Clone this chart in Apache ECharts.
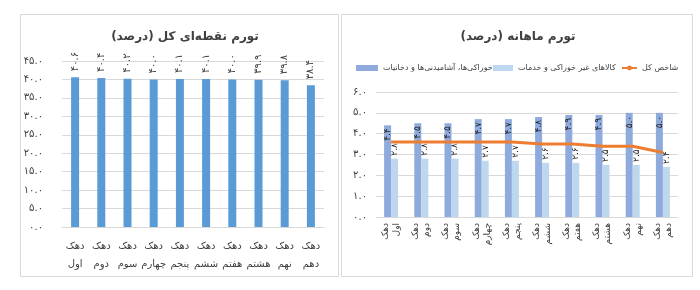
<!DOCTYPE html>
<html><head><meta charset="utf-8">
<script src="https://cdn.jsdelivr.net/npm/echarts@6/dist/echarts.min.js"></script>
<style>html,body{margin:0;padding:0;background:#fff}#c{width:700px;height:290px}</style>
</head><body><div id="c"></div>
<script>
const deciles = ['دهک اول','دهک دوم','دهک سوم','دهک چهارم','دهک پنجم','دهک ششم','دهک هفتم','دهک هشتم','دهک نهم','دهک دهم'];
const pointInflation = [40.6, 40.4, 40.2, 40.0, 40.1, 40.1, 40.0, 39.9, 39.8, 38.4];
const foodMonthly = [4.4, 4.5, 4.5, 4.7, 4.7, 4.8, 4.9, 4.9, 5.0, 5.0];
const nonFoodMonthly = [2.8, 2.8, 2.8, 2.7, 2.7, 2.6, 2.6, 2.5, 2.5, 2.4];
const totalMonthly = [3.6, 3.6, 3.6, 3.6, 3.6, 3.5, 3.5, 3.4, 3.4, 3.1];
const leftTicks = ['۰.۰','۵.۰','۱۰.۰','۱۵.۰','۲۰.۰','۲۵.۰','۳۰.۰','۳۵.۰','۴۰.۰','۴۵.۰'];
const rightTicks = ['۰.۰','۱.۰','۲.۰','۳.۰','۴.۰','۵.۰','۶.۰'];
const titleLeft = 'تورم نقطه‌ای کل (درصد)';
const titleRight = 'تورم ماهانه (درصد)';
const nameFood = 'خوراکی‌ها، آشامیدنی‌ها و دخانیات';
const nameNonFood = 'کالاهای غیر خوراکی و خدمات';
const nameTotal = 'شاخص کل';

const fa = s => String(s).replace(/[0-9]/g, d => '۰۱۲۳۴۵۶۷۸۹'[d]);
const fmt1 = v => fa(Number(v).toFixed(1));
const FONT = 'DejaVu Sans';
const TXT = '#404040';
const legendBase = {top: 64, itemGap: 5, itemHeight: 6, padding: 0,
  textStyle: {fontFamily: FONT, fontSize: 8, color: TXT}};

const chart = echarts.init(document.getElementById('c'), null, {renderer: 'canvas'});
chart.setOption({
  animation: false,
  textStyle: {fontFamily: FONT},
  graphic: [
    {type: 'rect', shape: {x: 20.5, y: 14.5, width: 318, height: 262}, style: {fill: 'none', stroke: '#d9d9d9', lineWidth: 1}},
    {type: 'rect', shape: {x: 341.5, y: 14.5, width: 351, height: 262}, style: {fill: 'none', stroke: '#d9d9d9', lineWidth: 1}}
  ],
  title: [
    {text: titleLeft, left: 180, top: 26, textAlign: 'center', textStyle: {fontFamily: FONT, fontSize: 12, fontWeight: 'bold', color: TXT}},
    {text: titleRight, left: 513, top: 26, textAlign: 'center', textStyle: {fontFamily: FONT, fontSize: 12, fontWeight: 'bold', color: TXT}}
  ],
  legend: [
    Object.assign({left: 356, itemWidth: 22, data: [{name: nameFood, icon: 'rect'}]}, legendBase),
    Object.assign({left: 493, itemWidth: 20, data: [{name: nameNonFood, icon: 'rect'}]}, legendBase),
    Object.assign({left: 621, itemWidth: 15, data: [{name: nameTotal}]}, legendBase)
  ],
  grid: [
    {left: 62, right: 376, top: 61, bottom: 63},
    {left: 376, right: 22, top: 92, bottom: 73}
  ],
  xAxis: [
    {type: 'category', gridIndex: 0, data: deciles,
     axisLine: {lineStyle: {color: '#d9d9d9'}}, axisTick: {show: false},
     axisLabel: {margin: 10, fontSize: 10, color: TXT, lineHeight: 18, interval: 0, formatter: v => v.replace(' ', '\n')}},
    {type: 'category', gridIndex: 1, data: deciles,
     axisLine: {lineStyle: {color: '#d9d9d9'}}, axisTick: {show: false},
     axisLabel: {margin: 6, fontSize: 9, color: TXT, rotate: 90, interval: 0, lineHeight: 11, formatter: v => v.replace(' ', '\n')}}
  ],
  yAxis: [
    {type: 'value', gridIndex: 0, min: 0, max: 45, interval: 5,
     axisLine: {show: false}, axisTick: {show: false},
     splitLine: {lineStyle: {color: '#d9d9d9'}},
     axisLabel: {margin: 19, fontSize: 10, color: TXT, formatter: v => leftTicks[Math.round(v / 5)]}},
    {type: 'value', gridIndex: 1, min: 0, max: 6, interval: 1,
     axisLine: {show: false}, axisTick: {show: false},
     splitLine: {lineStyle: {color: '#d9d9d9'}},
     axisLabel: {margin: 9, fontSize: 10, color: TXT, formatter: v => rightTicks[Math.round(v)]}}
  ],
  series: [
    {type: 'bar', xAxisIndex: 0, yAxisIndex: 0, data: pointInflation, barWidth: 8,
     itemStyle: {color: '#5b9bd5'},
     label: {show: true, position: 'top', distance: 6, rotate: 90, align: 'left', verticalAlign: 'middle',
             fontSize: 10, color: TXT, formatter: p => fmt1(p.value)}},
    {name: nameFood, type: 'bar', xAxisIndex: 1, yAxisIndex: 1, data: foodMonthly, barWidth: 7, barGap: '0%',
     itemStyle: {color: '#8faadc'},
     label: {show: true, position: 'insideTop', distance: 3, rotate: 90, align: 'right', verticalAlign: 'middle',
             fontSize: 9, color: '#222', formatter: p => fmt1(p.value)}},
    {name: nameNonFood, type: 'bar', xAxisIndex: 1, yAxisIndex: 1, data: nonFoodMonthly, barWidth: 7, barGap: '0%',
     itemStyle: {color: '#bdd7ee'},
     label: {show: true, position: 'top', distance: 3, rotate: 90, align: 'left', verticalAlign: 'middle',
             fontSize: 9, color: '#222', formatter: p => fmt1(p.value)}},
    {name: nameTotal, type: 'line', xAxisIndex: 1, yAxisIndex: 1, data: totalMonthly,
     symbol: 'none', lineStyle: {color: '#ed7d31', width: 3}, itemStyle: {color: '#ed7d31'},
     label: {show: true, position: 'inside', rotate: 90, align: 'center', verticalAlign: 'middle',
             fontSize: 9, color: '#222', formatter: p => fmt1(p.value)}}
  ]
});
</script></body></html>
